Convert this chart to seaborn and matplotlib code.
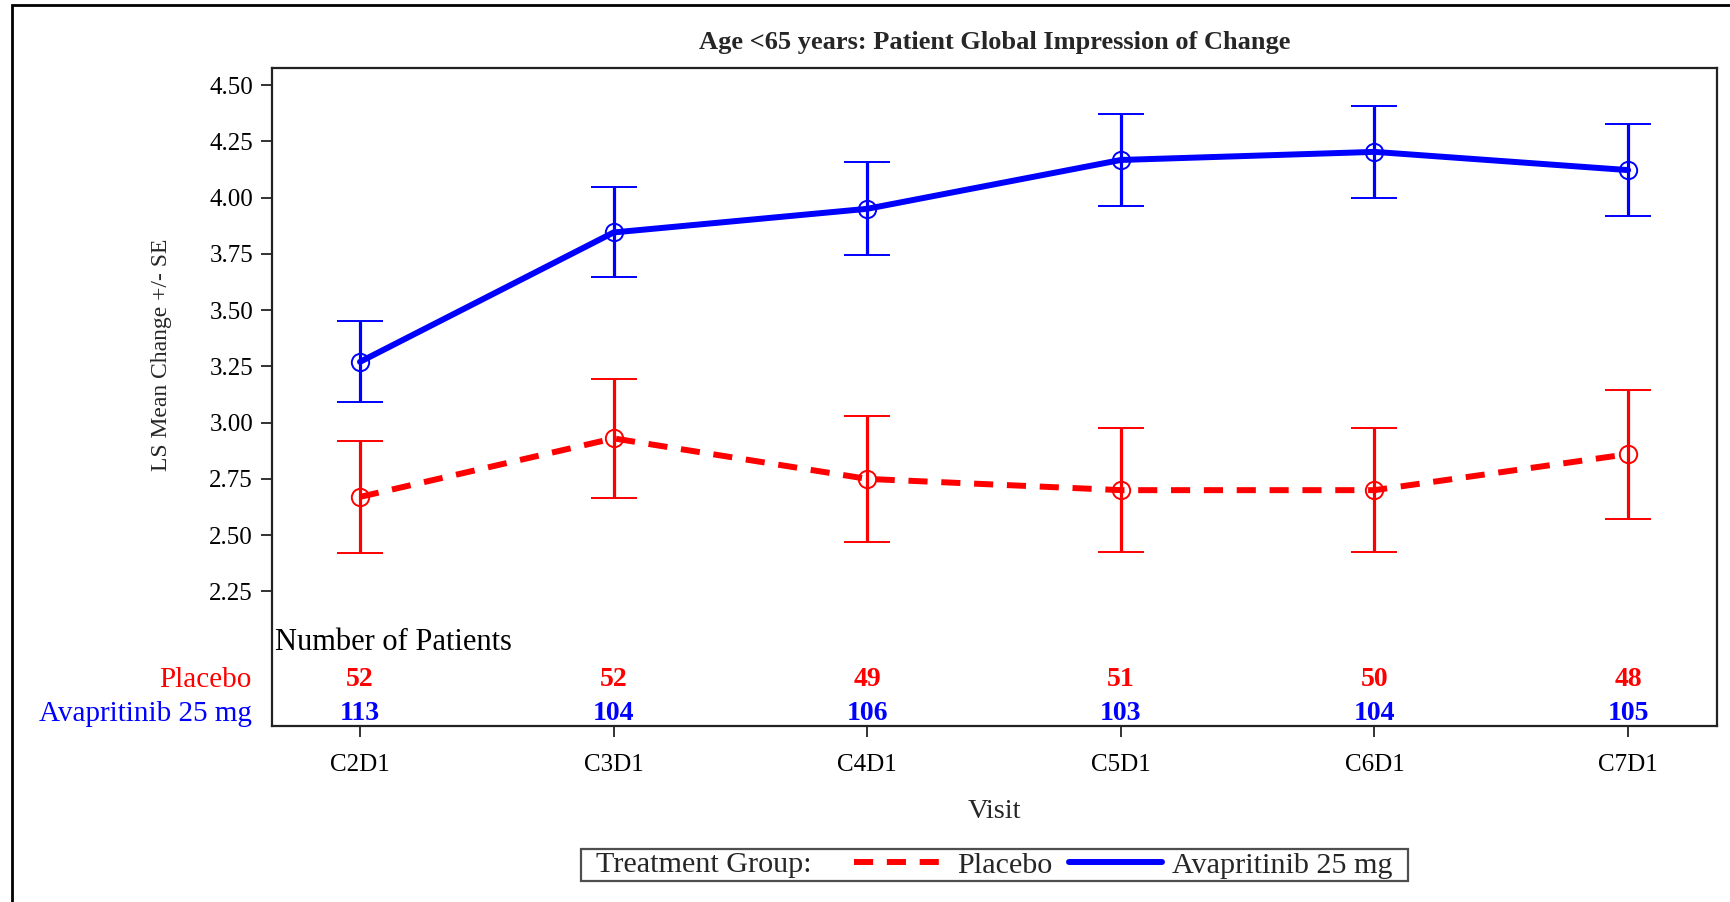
import matplotlib
matplotlib.use("Agg")
import matplotlib.pyplot as plt
from matplotlib.lines import Line2D
from matplotlib.patches import Rectangle
from matplotlib.offsetbox import HPacker, DrawingArea
import matplotlib.transforms as mtransforms
import numpy as np
import pandas as pd
import seaborn as sns

# ---- data -------------------------------------------------------------
visits = ["C2D1", "C3D1", "C4D1", "C5D1", "C6D1", "C7D1"]
groups = ["Placebo", "Avapritinib 25 mg"]

placebo_mean = [2.67, 2.93, 2.75, 2.70, 2.70, 2.86]
placebo_se = [0.25, 0.265, 0.28, 0.275, 0.277, 0.287]
avap_mean = [3.27, 3.845, 3.95, 4.167, 4.203, 4.122]
avap_se = [0.18, 0.20, 0.207, 0.205, 0.205, 0.203]

placebo_n = [52, 52, 49, 51, 50, 48]
avap_n = [113, 104, 106, 103, 104, 105]

y_ticks = [2.25, 2.50, 2.75, 3.00, 3.25, 3.50, 3.75, 4.00, 4.25, 4.50]

title = "Age <65 years: Patient Global Impression of Change"
y_label = "LS Mean Change +/- SE"
x_label = "Visit"
legend_title = "Treatment Group:"
table_title = "Number of Patients"

colors = {"Placebo": "#ff0000", "Avapritinib 25 mg": "#0000ff"}

# ---- long-form frame --------------------------------------------------
pos = np.arange(len(visits))
df = pd.concat([
    pd.DataFrame({"pos": pos, "visit": visits, "group": groups[0],
                  "mean": placebo_mean, "se": placebo_se, "n": placebo_n}),
    pd.DataFrame({"pos": pos, "visit": visits, "group": groups[1],
                  "mean": avap_mean, "se": avap_se, "n": avap_n}),
], ignore_index=True)

# ---- styling ----------------------------------------------------------
sns.set_theme(style="white")
plt.rcParams["font.family"] = ["Liberation Serif", "DejaVu Serif"]
plt.rcParams["axes.edgecolor"] = "#222222"
plt.rcParams["axes.linewidth"] = 1.6

fig = plt.figure(figsize=(17.30, 9.02), dpi=100)
AX_L, AX_R, AX_B, AX_T = 0.1575, 0.9924, 0.1951, 0.9242
ax = fig.add_axes([AX_L, AX_B, AX_R - AX_L, AX_T - AX_B])

LW = 4.3
DASH = (3.2, 2.3)
sns.lineplot(data=df, x="pos", y="mean", hue="group", style="group",
             hue_order=groups, style_order=groups, palette=colors,
             dashes={"Placebo": DASH, "Avapritinib 25 mg": ""},
             linewidth=LW, sort=False, legend=False, ax=ax, zorder=3)

for g in groups:
    sub = df[df["group"] == g]
    ax.errorbar(sub["pos"], sub["mean"], yerr=sub["se"], fmt="o",
                color=colors[g], mfc="none", mec=colors[g], ms=12.5, mew=1.4,
                elinewidth=2.3, capsize=16.5, capthick=3.0, zorder=4)

ax.set_xlim(-0.345, 5.35)
ax.set_ylim(1.652, 4.574)
ax.set_yticks(y_ticks)
ax.set_yticklabels([f"{v:.2f}" for v in y_ticks])
ax.set_xticks(pos)
ax.set_xticklabels(visits)
ax.tick_params(axis="both", direction="out", length=8, width=1.3,
               color="#222222", labelsize=18, labelcolor="black",
               bottom=True, left=True, top=False, right=False)
ax.tick_params(axis="y", pad=6)
ax.tick_params(axis="x", pad=12)
ax.set_xlabel("")
ax.set_ylabel("")
for s in ax.spines.values():
    s.set_visible(True)
    s.set_color("#222222")
    s.set_linewidth(1.6)

# table of patient counts inside the plot area
blend = mtransforms.blended_transform_factory(ax.transAxes, ax.transData)
ax.text(0.002, 2.025, table_title, transform=blend,
        ha="left", va="center", fontsize=22, color="black")
row_y = {"Placebo": 1.858, "Avapritinib 25 mg": 1.707}
for g in groups:
    sub = df[df["group"] == g]
    for x, n in zip(sub["pos"], sub["n"]):
        ax.text(x, row_y[g], str(n), ha="center", va="center",
                fontsize=20, fontweight="bold", color=colors[g])
    ax.text(-0.0145, row_y[g], g, transform=blend, ha="right", va="center",
            fontsize=21, color=colors[g], clip_on=False)

# titles and axis labels
xc = (AX_L + AX_R) / 2
fig.text(xc, 1 - 43 / 902, title, ha="center", va="center",
         fontsize=19, fontweight="bold")
fig.text(161 / 1730, 1 - 354.7 / 902, y_label, rotation=90, ha="center",
         va="center", fontsize=17)
fig.text(xc, 1 - 811 / 902, x_label, ha="center", va="center", fontsize=20.5)

# legend with its title placed inline to the left of the entries
FS_LEG = 21.7
handles = [
    Line2D([], [], color=colors["Placebo"], lw=LW, dashes=DASH),
    Line2D([], [], color=colors["Avapritinib 25 mg"], lw=LW),
]
leg = fig.legend(handles, groups, title=legend_title, ncol=2,
                 loc="center", bbox_to_anchor=(xc, 1 - 865 / 902),
                 fontsize=FS_LEG, title_fontsize=FS_LEG, frameon=True,
                 fancybox=False, edgecolor="#222222", handlelength=3.1,
                 handletextpad=0.33, columnspacing=0.55, borderpad=0.2,
                 borderaxespad=0)
leg.get_frame().set_linewidth(1.6)
inner = HPacker(pad=0, sep=30, align="center",
                children=[leg._legend_title_box, leg._legend_handle_box])
box = HPacker(pad=2, sep=0, align="center",
              children=[DrawingArea(9, 1), inner, DrawingArea(9, 1)])
box.set_figure(fig)
box.axes = None
leg._legend_box = box
box.set_offset(leg._findoffset)

# outer frame around the whole graphic
fig.patches.append(Rectangle((12 / 1730, -0.2), 1.5, 1.2 - 4.5 / 902,
                             transform=fig.transFigure, fill=False,
                             lw=2.0, edgecolor="black", clip_on=False))

fig.savefig("out.png", dpi=100)
